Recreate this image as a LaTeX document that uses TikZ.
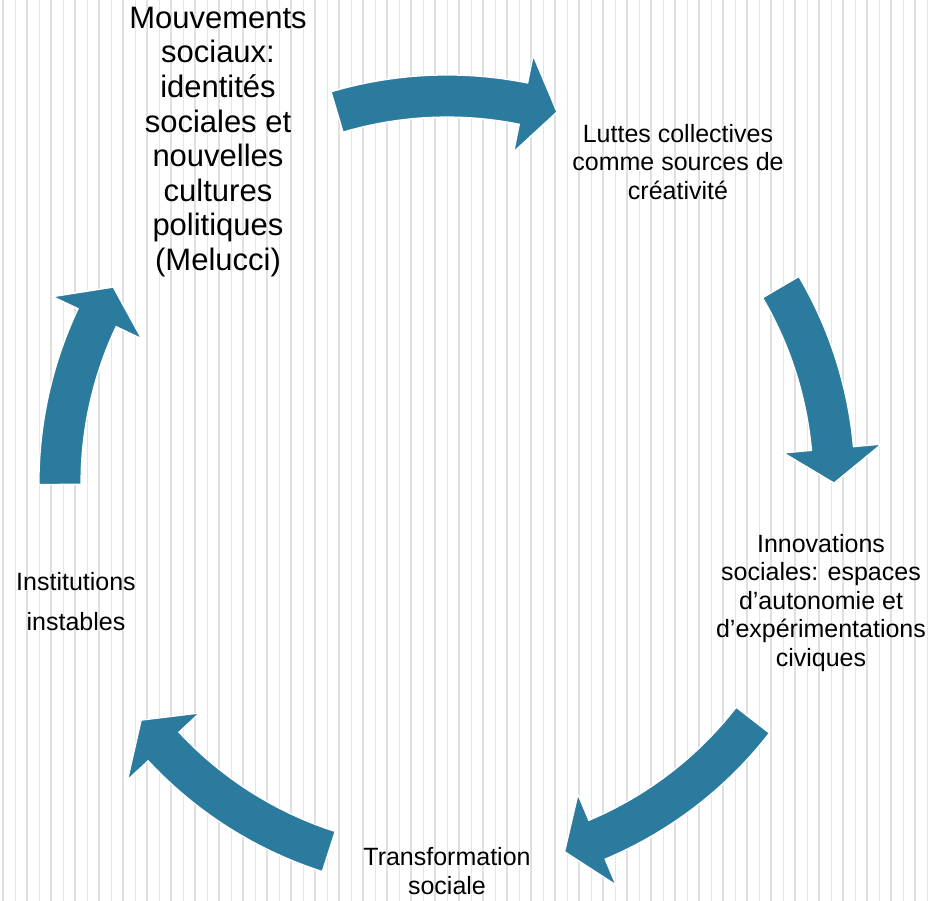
\documentclass[tikz,border=0pt]{standalone}
\usepackage{fontspec}
\setmainfont{Liberation Sans}
\usepackage{tikz}
\definecolor{cycblue}{HTML}{2B7B9E}
\tikzstyle{cyc} = [fill=cycblue,draw=white,line width=1.2pt,line join=miter]
\tikzstyle{stripe} = [black!12,line width=1.9pt]
\tikzstyle{thinstripe} = [black!10,line width=1.2pt]
\tikzstyle{big} = [align=center,inner sep=0pt,font=\fontsize{31}{34.6}\selectfont]
\tikzstyle{txt} = [align=center,inner sep=0pt,font=\fontsize{25}{28.5}\selectfont]
% curved block arrow round (c): tail angle, tip angle
\newcommand{\cycarrow}[2]{%
  \pgfmathsetmacro{\hb}{#2+5.1}
  \draw[cyc] ([shift={(#1:366pt)}]c) arc[start angle=#1, end angle=\hb, radius=366pt]
    -- ([shift={(\hb:338pt)}]c) -- ([shift={(#2:387pt)}]c) -- ([shift={(\hb:436pt)}]c)
    -- ([shift={(\hb:408pt)}]c) arc[start angle=\hb, end angle=#1, radius=408pt] -- cycle;}

\begin{document}
\begin{tikzpicture}[x=1pt,y=1pt]
        \fill[white] (0,0) rectangle (934,-901);
        \useasboundingbox (0,0) rectangle (934,-901);
        \foreach \i in {0,...,38} {
            \draw[stripe] (3+24*\i,0) -- (3+24*\i,-901);
            \draw[thinstripe] (15.5+24*\i,0) -- (15.5+24*\i,-901);
        }
        \coordinate (c) at (447,-483);

        % arrows
        \cycarrow{106.5}{73.5}
        \cycarrow{30.4}{0}
        \cycarrow{-37.8}{-72.3}
        \cycarrow{-107.8}{-142.2}
        \cycarrow{180.2}{149.6}

        % texts
        \node[big] at (218,-142) (mouv) {Mouvements\\sociaux:\\identités\\sociales et\\nouvelles\\cultures\\politiques\\(Melucci)};
        \node[txt] at (678,-162) (luttes) {Luttes collectives\\comme sources de\\créativité};
        \node[txt] at (821,-603) (innov) {Innovations\\sociales: espaces\\d’autonomie et\\d’expérimentations\\civiques};
        \node[txt] at (447,-871) (transf) {Transformation\\sociale};
        \node[txt,font=\fontsize{25}{40}\selectfont] at (76,-602) (instit) {Institutions\\instables};
\end{tikzpicture}
\end{document}
